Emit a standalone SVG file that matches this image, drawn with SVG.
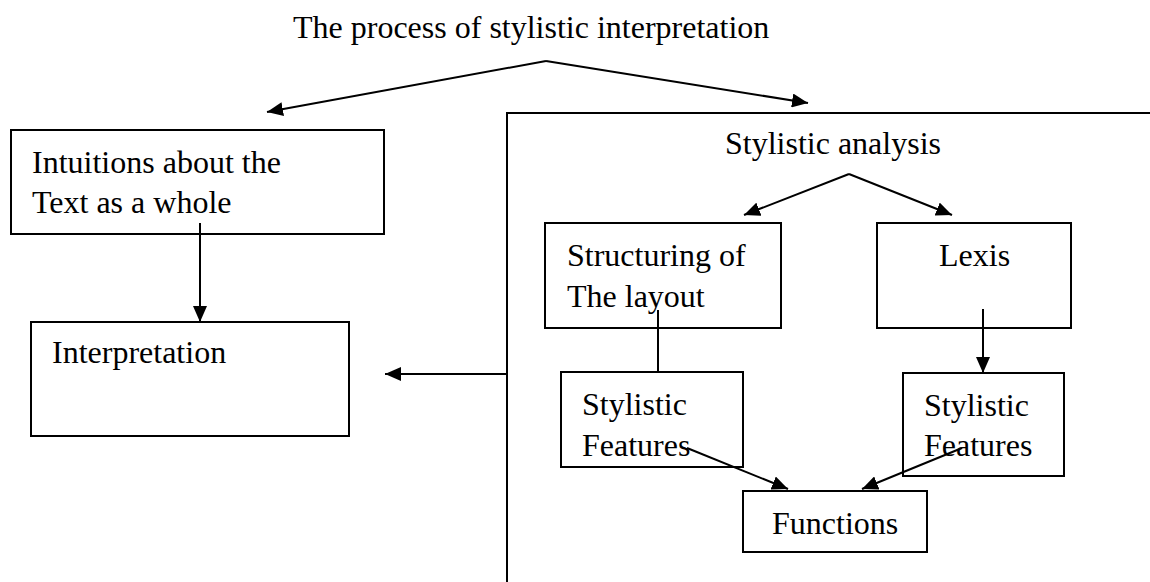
<svg xmlns="http://www.w3.org/2000/svg" width="1150" height="582" viewBox="0 0 1150 582">
  <defs>
    <marker id="arrow" viewBox="0 0 16 14" markerWidth="16" markerHeight="14" refX="16" refY="7" orient="auto" markerUnits="userSpaceOnUse">
      <path d="M0,0 L16,7 L0,14 z" fill="#000"/>
    </marker>
    <style>
      .box { fill: #fff; stroke: #000; stroke-width: 2; }
      .frame { fill: none; stroke: #000; stroke-width: 2; }
      .lbl { font-family: "Liberation Serif", "Times New Roman", serif; font-size: 32px; fill: #000; }
      .edge { fill: none; stroke: #000; stroke-width: 2; }
      .arr { marker-end: url(#arrow); }
    </style>
  </defs>
  <rect width="1150" height="582" fill="#fff"/>

  <!-- title -->
  <g id="title">
    <text class="lbl" x="293" y="38">The process of stylistic interpretation</text>
  </g>

  <!-- open frame holding the analysis part -->
  <g id="analysis-frame">
    <polyline class="frame" points="507,582 507,113 1150,113"/>
    <text class="lbl" x="725" y="154">Stylistic analysis</text>
  </g>

  <g id="intuitions">
    <rect class="box" x="11" y="130" width="373" height="104"/>
    <text class="lbl" x="32" y="173">Intuitions about the</text>
    <text class="lbl" x="32" y="213">Text as a whole</text>
  </g>

  <g id="interpretation">
    <rect class="box" x="31" y="322" width="318" height="114"/>
    <text class="lbl" x="52" y="363">Interpretation</text>
  </g>

  <g id="structuring">
    <rect class="box" x="545" y="223" width="236" height="105"/>
    <text class="lbl" x="567" y="266">Structuring of</text>
    <text class="lbl" x="567" y="307">The layout</text>
  </g>

  <g id="lexis">
    <rect class="box" x="877" y="223" width="194" height="105"/>
    <text class="lbl" x="939" y="266">Lexis</text>
  </g>

  <g id="features-left">
    <rect class="box" x="561" y="372" width="182" height="95"/>
    <text class="lbl" x="582" y="415">Stylistic</text>
    <text class="lbl" x="582" y="456">Features</text>
  </g>

  <g id="features-right">
    <rect class="box" x="903" y="373" width="161" height="103"/>
    <text class="lbl" x="924" y="416">Stylistic</text>
    <text class="lbl" x="924" y="456">Features</text>
  </g>

  <g id="functions">
    <rect class="box" x="743" y="491" width="184" height="61"/>
    <text class="lbl" x="772" y="534">Functions</text>
  </g>

  <g id="connectors">
    <line class="edge arr" x1="546" y1="61" x2="267" y2="112"/>
    <line class="edge arr" x1="546" y1="61" x2="808" y2="103"/>
    <line class="edge arr" x1="200" y1="223" x2="200" y2="322"/>
    <line class="edge arr" x1="507" y1="374" x2="385" y2="374"/>
    <line class="edge arr" x1="849" y1="174" x2="744" y2="215"/>
    <line class="edge arr" x1="849" y1="174" x2="952" y2="215"/>
    <line class="edge" x1="658" y1="310" x2="658" y2="372"/>
    <line class="edge arr" x1="983" y1="309" x2="983" y2="373"/>
    <line class="edge arr" x1="687" y1="448" x2="788" y2="489"/>
    <line class="edge arr" x1="962" y1="448" x2="862" y2="489"/>
  </g>
</svg>
